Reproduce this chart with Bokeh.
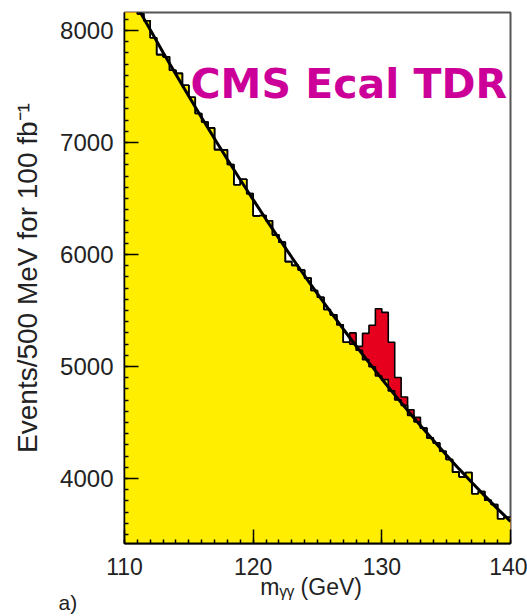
import numpy as np
from bokeh.plotting import figure
from bokeh.models import Range1d, SingleIntervalTicker, Label, Title
from bokeh.embed import file_html
from bokeh.resources import INLINE

# Diphoton invariant-mass spectrum, 500 MeV bins from 110 to 140 GeV
bin_low = 110.0
bin_width = 0.5

# background events per bin (yellow)
background = [
    8364, 8281, 8148, 8086, 7934, 7784, 7764, 7645, 7617, 7510,
    7404, 7258, 7183, 7130, 6936, 6934, 6803, 6622, 6672, 6543,
    6345, 6348, 6301, 6175, 6110, 5936, 5903, 5861, 5789, 5678,
    5618, 5509, 5461, 5373, 5216, 5200, 5145, 5061, 4998, 4915,
    4883, 4782, 4702, 4653, 4564, 4506, 4450, 4363, 4318, 4244,
    4170, 4057, 4015, 4054, 3864, 3884, 3806, 3768, 3641, 3654,
]

# Higgs signal events stacked on top (red), first bin at 127.5 GeV
signal_start = 127.5
signal = [100, 35, 235, 370, 600, 600, 435, 200, 75, 50, 40]

# background fit curve
fit_mass = [110, 111, 112, 113, 114, 115, 116, 117, 118, 119, 120,
            121, 122, 123, 124, 125, 126, 127, 128, 129, 130,
            131, 132, 133, 134, 135, 136, 137, 138, 139, 140]
fit_events = [8417, 8209, 8005, 7804, 7606, 7412, 7221, 7033, 6848, 6667, 6489,
              6314, 6143, 5975, 5810, 5648, 5490, 5335, 5183, 5034, 4889,
              4747, 4608, 4473, 4341, 4212, 4086, 3964, 3845, 3729, 3617]

x_ticks_interval = 10
y_ticks_interval = 1000

YELLOW = "#ffee00"
RED = "#e6001e"
MAGENTA = "#cc0099"
TEXT = "#222222"

bg = np.array(background, dtype=float)
edges = bin_low + bin_width * np.arange(len(bg) + 1)
total = bg.copy()
i0 = int(round((signal_start - bin_low) / bin_width))
total[i0:i0 + len(signal)] += np.array(signal, dtype=float)


def stepped(v):
    return np.append(v, v[-1])


p = figure(width=527, height=616,
           x_range=Range1d(110, 140), y_range=Range1d(3420, 8160),
           output_backend="svg", toolbar_location=None,
           min_border_left=124, min_border_right=17,
           min_border_top=12, min_border_bottom=73)
p.background_fill_color = "white"
p.border_fill_color = "white"
p.xgrid.visible = False
p.ygrid.visible = False
p.outline_line_color = "#555555"
p.outline_line_width = 2

base = 3000
# signal + background, then background drawn over it
p.varea_step(x=edges, y1=base, y2=stepped(total), step_mode="after",
             fill_color=RED)
p.varea_step(x=edges, y1=base, y2=stepped(bg), step_mode="after",
             fill_color=YELLOW)
p.step(edges, stepped(total), mode="after", line_color="black", line_width=1.6)
p.step(edges, stepped(bg), mode="after", line_color="black", line_width=1.6)
p.line(fit_mass, fit_events, line_color="black", line_width=3)

# axes: inward ticks in the ROOT style
p.xaxis.ticker = SingleIntervalTicker(interval=x_ticks_interval, num_minor_ticks=10)
p.yaxis.ticker = SingleIntervalTicker(interval=y_ticks_interval, num_minor_ticks=10)
for ax in (p.xaxis[0], p.yaxis[0]):
    ax.major_tick_in = 14
    ax.major_tick_out = 0
    ax.minor_tick_in = 4
    ax.minor_tick_out = 0
    ax.major_tick_line_width = 1.5
    ax.minor_tick_line_width = 1.5
    ax.major_tick_line_color = "black"
    ax.minor_tick_line_color = "black"
    ax.axis_line_color = "black"
    ax.major_label_text_font = "Liberation Sans"
    ax.major_label_text_color = TEXT
    ax.axis_label_text_font = "Liberation Sans"
    ax.axis_label_text_font_style = "normal"
    ax.axis_label_text_color = TEXT
p.xaxis.axis_line_width = 2
p.yaxis.axis_line_width = 1.5
p.xaxis.major_label_text_font_size = "23px"
p.yaxis.major_label_text_font_size = "24px"
p.xaxis.major_label_standoff = 14
p.yaxis.major_label_standoff = 11

p.yaxis.axis_label = "Events/500 MeV for 100 fb\u207b\u00b9"
p.yaxis.axis_label_text_font_size = "28px"
p.yaxis.axis_label_standoff = 14

p.xaxis.axis_label = "m\u1d67\u1d67 (GeV)  "
p.xaxis.axis_label_text_font_size = "23px"
p.xaxis.axis_label_standoff = -4

# panel tag under the axis
p.add_layout(Title(text="a)", align="left", offset=-66, standoff=-40,
                   vertical_align="middle",
                   text_font="Liberation Sans", text_font_style="normal",
                   text_font_size="21px", text_color=TEXT), "below")

p.add_layout(Label(x=115.13, y=7518, text="CMS Ecal TDR",
                   text_font="DejaVu Sans", text_font_style="bold",
                   text_font_size="41px", text_color=MAGENTA,
                   text_baseline="alphabetic"))

open("out.html", "w").write(file_html(p, INLINE))
